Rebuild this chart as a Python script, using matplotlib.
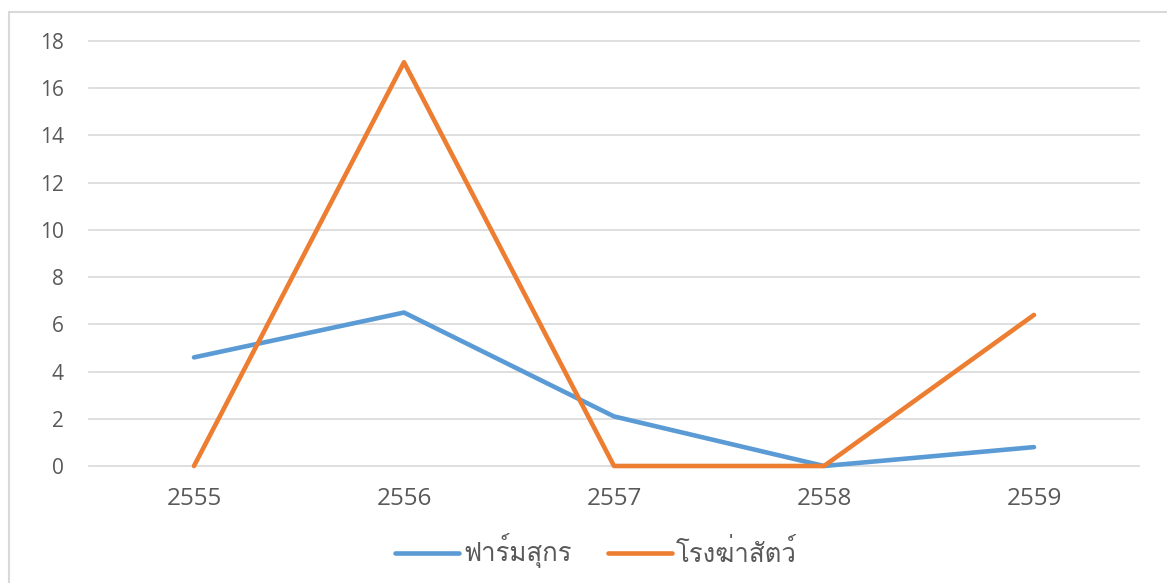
import matplotlib
matplotlib.use("Agg")
import matplotlib.pyplot as plt
from matplotlib import font_manager
from matplotlib.ft2font import FT2Font
from matplotlib.patches import Rectangle

years = ["2555", "2556", "2557", "2558", "2559"]
pig_farm = [4.6, 6.5, 2.1, 0.0, 0.8]
slaughterhouse = [0.0, 17.1, 0.0, 0.0, 6.4]
series_names = ["ฟาร์มสุกร", "โรงฆ่าสัตว์"]
y_ticks = [0, 2, 4, 6, 8, 10, 12, 14, 16, 18]


def thai_families():
    found = []
    for f in font_manager.fontManager.ttflist:
        try:
            cmap = FT2Font(f.fname).get_charmap()
        except Exception:
            continue
        if ord("ฟ") in cmap and f.name not in found:
            found.append(f.name)
    return found


thai = thai_families()
plt.rcParams["font.family"] = ["Open Sans", "DejaVu Sans"]

fig = plt.figure(figsize=(11.67, 5.83), dpi=100)
fig.patches.append(Rectangle((9 / 1167, -0.05), 1.2, 1 - 12 / 583 + 0.05,
                             transform=fig.transFigure, fill=False,
                             edgecolor="#D9D9D9", linewidth=1.5))

ax = fig.add_axes([89 / 1167, 1 - 466 / 583, 1050 / 1167, 425 / 583])
x = list(range(len(years)))
ax.plot(x, pig_farm, color="#5B9BD5", linewidth=3.3, solid_capstyle="round",
        label=series_names[0], zorder=3, clip_on=False)
ax.plot(x, slaughterhouse, color="#ED7D31", linewidth=3.3, solid_capstyle="round",
        label=series_names[1], zorder=3, clip_on=False)

ax.set_xlim(-0.5, len(years) - 0.5)
ax.set_ylim(0, 18)
ax.set_yticks(y_ticks)
ax.set_xticks(x)
ax.set_xticklabels(years)

ax.grid(axis="y", color="#D9D9D9", linewidth=1.2)
for g in ax.get_ygridlines():
    g.set_clip_on(False)
ax.set_axisbelow(True)
for s in ax.spines.values():
    s.set_visible(False)
ax.tick_params(axis="both", length=0, colors="#595959")
ax.tick_params(axis="x", pad=15, labelsize=17.5)
ax.tick_params(axis="y", pad=18, labelsize=15)

leg = fig.legend(loc="center", bbox_to_anchor=(596 / 1167, 1 - 551 / 583),
                 ncol=2, frameon=False, handlelength=2.5,
                 handletextpad=0.15, columnspacing=1.4,
                 prop={"family": thai + ["DejaVu Sans"], "size": 18.5})
for t in leg.get_texts():
    t.set_color("#595959")

fig.savefig("out.png", dpi=100)
